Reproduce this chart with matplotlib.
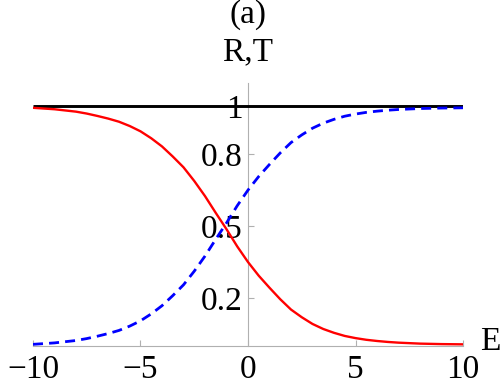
import matplotlib
matplotlib.use("Agg")
import matplotlib.pyplot as plt

E = [-10, -9, -8.5, -8, -7.5, -7, -6.5, -6, -5.5, -5, -4.5, -4, -3.5, -3, -2.5,
     -2, -1.5, -1, -0.5, 0, 0.5, 1, 1.5, 2, 2.5, 3, 3.5, 4, 4.5, 5, 5.5, 6,
     6.5, 7, 7.5, 8, 9, 10]
R = [0.993, 0.987, 0.982, 0.977, 0.969, 0.959, 0.948, 0.935, 0.917, 0.895,
     0.866, 0.832, 0.790, 0.745, 0.688, 0.625, 0.555, 0.487, 0.415, 0.350,
     0.293, 0.243, 0.195, 0.152, 0.120, 0.092, 0.071, 0.055, 0.042, 0.033,
     0.026, 0.021, 0.017, 0.014, 0.012, 0.010, 0.008, 0.007]
T = [0.007, 0.013, 0.018, 0.023, 0.031, 0.041, 0.052, 0.065, 0.083, 0.105,
     0.134, 0.168, 0.210, 0.255, 0.312, 0.375, 0.445, 0.513, 0.585, 0.650,
     0.707, 0.757, 0.805, 0.848, 0.880, 0.908, 0.929, 0.945, 0.958, 0.967,
     0.974, 0.979, 0.983, 0.986, 0.988, 0.990, 0.992, 0.993]
E_sum = [-10, 10]
RT_sum = [1.0, 1.0]

xticks = [-10, -5, 0, 5, 10]
xticklabels = ["\u221210", "\u22125", "0", "5", "10"]
yticks = [0.2, 0.5, 0.8, 1.0]
yticklabels = ["0.2", "0.5", "0.8", "1"]

plt.rcParams['font.family'] = ['Liberation Serif', 'DejaVu Serif']

fig = plt.figure(figsize=(5.0, 3.92), dpi=100)
ax = fig.add_axes([0.066, 0.1173, 0.86, 0.6707])

ax.plot(E_sum, RT_sum, color='black', lw=2.1, zorder=3, solid_capstyle='butt')
ax.plot(E, R, color='#ff0000', lw=1.7, zorder=3)
ax.plot(E, T, color='#0000ff', lw=2.0, dashes=(3.6, 2.2), zorder=3)

ax.set_xlim(-10, 10)
ax.set_ylim(0, 1.096)

for s in ['top', 'right']:
    ax.spines[s].set_visible(False)
ax.spines['left'].set_position(('data', 0))
ax.spines['bottom'].set_position(('data', 0))
for s in ['left', 'bottom']:
    ax.spines[s].set_color('#b0b0b0')
    ax.spines[s].set_linewidth(0.8)

ax.set_xticks(xticks)
ax.set_xticklabels(xticklabels)
ax.set_yticks(yticks)
ax.set_yticklabels(yticklabels)
ax.tick_params(axis='both', direction='in', length=4, width=0.8, color='#b0b0b0',
               labelsize=24)
ax.tick_params(axis='x', pad=6)
ax.tick_params(axis='y', pad=4)

ax.text(11.25, 0.017, 'E', fontsize=24, ha='center', va='center', clip_on=False)
ax.text(0, 1.225, 'R,T', fontsize=24, ha='center', va='center', clip_on=False)
ax.text(0, 1.38, '(a)', fontsize=24, ha='center', va='center', clip_on=False)

fig.savefig('out.png', dpi=100)
